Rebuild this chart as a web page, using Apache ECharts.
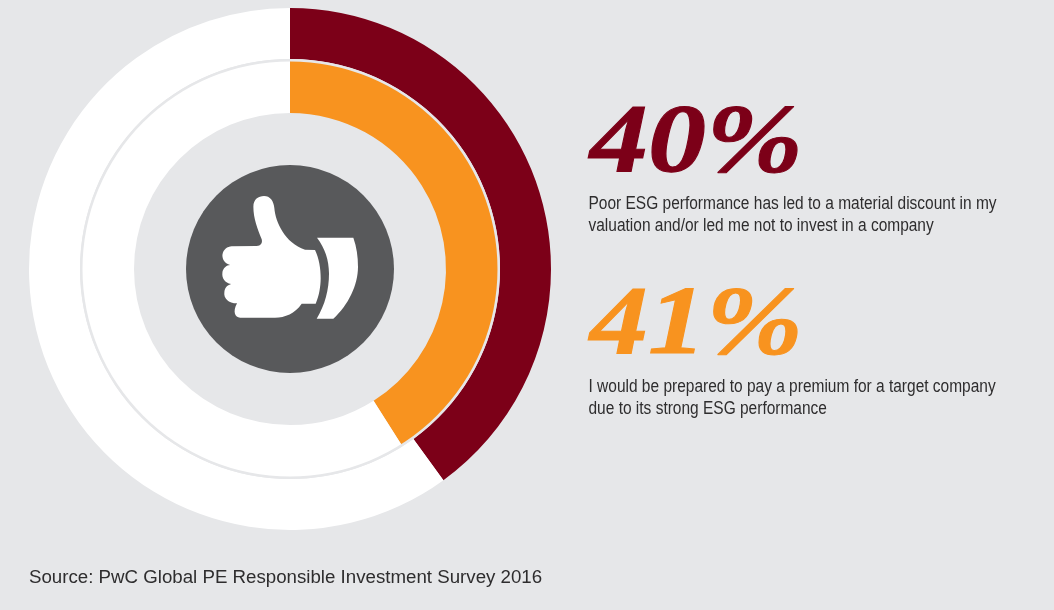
<!DOCTYPE html>
<html><head><meta charset="utf-8">
<style>html,body{margin:0;padding:0;background:#E6E7E9}#c{width:1054px;height:610px}</style>
<script src="https://cdn.jsdelivr.net/npm/echarts@6/dist/echarts.min.js"></script>
</head><body><div id="c"></div>
<script>
const shareLabels = ['40%', '41%'];
const outerValues = [40, 60];
const innerValues = [41, 59];
const captions = [
  ['Poor ESG performance has led to a material discount in my', 'valuation and/or led me not to invest in a company'],
  ['I would be prepared to pay a premium for a target company', 'due to its strong ESG performance']
];
const source = 'Source: PwC Global PE Responsible Investment Survey 2016';
const colorOuter = '#7C0018', colorInner = '#F8931F', colorBg = '#E6E7E9';

const thumb = 'M250 170C250 148 265 138 282 138C300 138 311 152 313 175C316 215 345 280 405 299L435 300C447 325 452 355 452 385C452 410 447 440 437 461L395 461C375 490 345 503 315 503L210 503C195 503 187 485 201 460C175 460 160 445 163 425C165 410 175 405 183 402C165 398 155 385 157 368C158 355 170 345 180 345C165 340 157 330 157 315C160 297 172 290 185 289L260 288C272 288 278 280 275 268C262 235 250 205 250 170Z';
const cuff = 'M441 263L550 263C560 290 564 320 564 350C564 405 535 465 490 506L440 506C465 465 477 420 477 370C477 330 465 295 441 263Z';

const ring = (vals, r0, r1, color) => ({
  type: 'pie', center: [290, 269], radius: [r0, r1], startAngle: 90, clockwise: true,
  silent: true, label: {show: false}, labelLine: {show: false}, animation: false,
  data: [{value: vals[0], itemStyle: {color}}, {value: vals[1], itemStyle: {color: '#FFFFFF'}}]
});
const bigText = (t, y, color) => ({type: 'text', x: 590, y, scaleX: 1.185, style: {
  text: t, fill: color, stroke: color, lineWidth: 1, font: 'italic bold 98px "Liberation Serif"'}});
const smallText = (t, y) => ({type: 'text', x: 588.5, y, scaleX: 0.885, style: {
  text: t, fill: '#2E2D2E', font: '17.5px "Liberation Sans"'}});

const chart = echarts.init(document.getElementById('c'), null, {renderer: 'canvas'});
chart.setOption({
  animation: false,
  backgroundColor: colorBg,
  series: [
    ring(outerValues, 210, 261, colorOuter),
    ring(innerValues, 156, 209, colorInner),
    {type: 'pie', center: [290, 269], radius: [0, 104], silent: true, label: {show: false}, labelLine: {show: false},
     data: [{value: 1, itemStyle: {color: '#58595B'}}]},
    {type: 'pie', center: [290, 269], radius: [207.5, 210], startAngle: 90, silent: true, label: {show: false}, labelLine: {show: false},
     data: [{value: 1, itemStyle: {color: '#E6E7E9'}}], z: 3},
    {type: 'custom', coordinateSystem: 'none', silent: true, z: 10, data: [[0]],
     renderItem: () => ({type: 'path',
       shape: {pathData: thumb + cuff, x: 222.3, y: 196, width: 135.7, height: 122.7, layout: 'cover'},
       style: {fill: '#fff'}})}
  ],
  graphic: [
    bigText(shareLabels[0], 97, colorOuter),
    bigText(shareLabels[1], 279, colorInner),
    smallText(captions[0][0], 195), smallText(captions[0][1], 217),
    smallText(captions[1][0], 378), smallText(captions[1][1], 400),
    {type: 'text', x: 29, y: 568, style: {text: source, fill: '#2E2D2E', font: '18.7px "Liberation Sans"'}}
  ]
});
</script></body></html>
